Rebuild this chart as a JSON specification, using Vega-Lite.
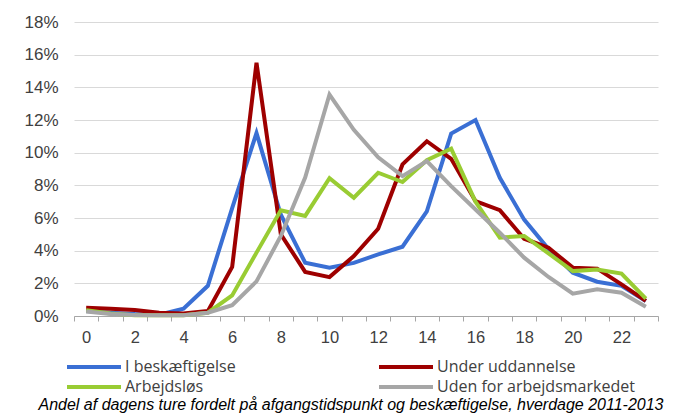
{
  "$schema": "https://vega.github.io/schema/vega-lite/v6.json",
  "autosize": {"type": "none"},
  "padding": {"left": 74, "top": 22, "right": 21, "bottom": 98},
  "width": 584,
  "height": 294,
  "background": "white",
  "title": {
    "text": "Andel af dagens ture fordelt på afgangstidspunkt og beskæftigelse, hverdage 2011-2013",
    "orient": "bottom",
    "anchor": "middle",
    "dx": -15,
    "offset": 2,
    "font": "Liberation Sans",
    "fontSize": 16,
    "fontStyle": "italic",
    "fontWeight": "normal",
    "color": "#000000"
  },
  "config": {
    "view": {"stroke": null},
    "axis": {"labelFont": "Liberation Sans", "labelColor": "#404040"},
    "legend": {"labelFont": "Open Sans"}
  },
  "data": {
    "values": [
      {"h": 0, "s": "I beskæftigelse", "v": 0.3},
      {"h": 1, "s": "I beskæftigelse", "v": 0.2},
      {"h": 2, "s": "I beskæftigelse", "v": 0.12},
      {"h": 3, "s": "I beskæftigelse", "v": 0.08},
      {"h": 4, "s": "I beskæftigelse", "v": 0.45},
      {"h": 5, "s": "I beskæftigelse", "v": 1.85},
      {"h": 6, "s": "I beskæftigelse", "v": 6.6},
      {"h": 7, "s": "I beskæftigelse", "v": 11.2},
      {"h": 8, "s": "I beskæftigelse", "v": 6.2},
      {"h": 9, "s": "I beskæftigelse", "v": 3.26},
      {"h": 10, "s": "I beskæftigelse", "v": 2.96},
      {"h": 11, "s": "I beskæftigelse", "v": 3.25},
      {"h": 12, "s": "I beskæftigelse", "v": 3.77},
      {"h": 13, "s": "I beskæftigelse", "v": 4.24},
      {"h": 14, "s": "I beskæftigelse", "v": 6.4},
      {"h": 15, "s": "I beskæftigelse", "v": 11.17},
      {"h": 16, "s": "I beskæftigelse", "v": 12.0},
      {"h": 17, "s": "I beskæftigelse", "v": 8.46},
      {"h": 18, "s": "I beskæftigelse", "v": 5.9},
      {"h": 19, "s": "I beskæftigelse", "v": 4.1},
      {"h": 20, "s": "I beskæftigelse", "v": 2.65},
      {"h": 21, "s": "I beskæftigelse", "v": 2.1},
      {"h": 22, "s": "I beskæftigelse", "v": 1.85},
      {"h": 23, "s": "I beskæftigelse", "v": 0.92},
      {"h": 0, "s": "Under uddannelse", "v": 0.5},
      {"h": 1, "s": "Under uddannelse", "v": 0.45},
      {"h": 2, "s": "Under uddannelse", "v": 0.37},
      {"h": 3, "s": "Under uddannelse", "v": 0.2},
      {"h": 4, "s": "Under uddannelse", "v": 0.15},
      {"h": 5, "s": "Under uddannelse", "v": 0.3},
      {"h": 6, "s": "Under uddannelse", "v": 3.0},
      {"h": 7, "s": "Under uddannelse", "v": 15.5},
      {"h": 8, "s": "Under uddannelse", "v": 5.0},
      {"h": 9, "s": "Under uddannelse", "v": 2.7},
      {"h": 10, "s": "Under uddannelse", "v": 2.38},
      {"h": 11, "s": "Under uddannelse", "v": 3.67},
      {"h": 12, "s": "Under uddannelse", "v": 5.34},
      {"h": 13, "s": "Under uddannelse", "v": 9.28},
      {"h": 14, "s": "Under uddannelse", "v": 10.7},
      {"h": 15, "s": "Under uddannelse", "v": 9.62},
      {"h": 16, "s": "Under uddannelse", "v": 7.03},
      {"h": 17, "s": "Under uddannelse", "v": 6.48},
      {"h": 18, "s": "Under uddannelse", "v": 4.73},
      {"h": 19, "s": "Under uddannelse", "v": 4.18},
      {"h": 20, "s": "Under uddannelse", "v": 2.96},
      {"h": 21, "s": "Under uddannelse", "v": 2.9},
      {"h": 22, "s": "Under uddannelse", "v": 1.94},
      {"h": 23, "s": "Under uddannelse", "v": 0.92},
      {"h": 0, "s": "Arbejdsløs", "v": 0.35},
      {"h": 1, "s": "Arbejdsløs", "v": 0.15},
      {"h": 2, "s": "Arbejdsløs", "v": 0.05},
      {"h": 3, "s": "Arbejdsløs", "v": 0.05},
      {"h": 4, "s": "Arbejdsløs", "v": 0.05},
      {"h": 5, "s": "Arbejdsløs", "v": 0.2},
      {"h": 6, "s": "Arbejdsløs", "v": 1.26},
      {"h": 7, "s": "Arbejdsløs", "v": 3.88},
      {"h": 8, "s": "Arbejdsløs", "v": 6.47},
      {"h": 9, "s": "Arbejdsløs", "v": 6.13},
      {"h": 10, "s": "Arbejdsløs", "v": 8.44},
      {"h": 11, "s": "Arbejdsløs", "v": 7.24},
      {"h": 12, "s": "Arbejdsløs", "v": 8.77},
      {"h": 13, "s": "Arbejdsløs", "v": 8.2},
      {"h": 14, "s": "Arbejdsløs", "v": 9.54},
      {"h": 15, "s": "Arbejdsløs", "v": 10.25},
      {"h": 16, "s": "Arbejdsløs", "v": 7.0},
      {"h": 17, "s": "Arbejdsløs", "v": 4.8},
      {"h": 18, "s": "Arbejdsløs", "v": 4.9},
      {"h": 19, "s": "Arbejdsløs", "v": 3.83},
      {"h": 20, "s": "Arbejdsløs", "v": 2.75},
      {"h": 21, "s": "Arbejdsløs", "v": 2.85},
      {"h": 22, "s": "Arbejdsløs", "v": 2.6},
      {"h": 23, "s": "Arbejdsløs", "v": 1.06},
      {"h": 0, "s": "Uden for arbejdsmarkedet", "v": 0.28},
      {"h": 1, "s": "Uden for arbejdsmarkedet", "v": 0.12},
      {"h": 2, "s": "Uden for arbejdsmarkedet", "v": 0.06},
      {"h": 3, "s": "Uden for arbejdsmarkedet", "v": 0.05},
      {"h": 4, "s": "Uden for arbejdsmarkedet", "v": 0.05},
      {"h": 5, "s": "Uden for arbejdsmarkedet", "v": 0.2},
      {"h": 6, "s": "Uden for arbejdsmarkedet", "v": 0.66},
      {"h": 7, "s": "Uden for arbejdsmarkedet", "v": 2.12},
      {"h": 8, "s": "Uden for arbejdsmarkedet", "v": 4.9},
      {"h": 9, "s": "Uden for arbejdsmarkedet", "v": 8.48},
      {"h": 10, "s": "Uden for arbejdsmarkedet", "v": 13.56},
      {"h": 11, "s": "Uden for arbejdsmarkedet", "v": 11.4},
      {"h": 12, "s": "Uden for arbejdsmarkedet", "v": 9.72},
      {"h": 13, "s": "Uden for arbejdsmarkedet", "v": 8.56},
      {"h": 14, "s": "Uden for arbejdsmarkedet", "v": 9.48},
      {"h": 15, "s": "Uden for arbejdsmarkedet", "v": 7.95},
      {"h": 16, "s": "Uden for arbejdsmarkedet", "v": 6.52},
      {"h": 17, "s": "Uden for arbejdsmarkedet", "v": 5.1},
      {"h": 18, "s": "Uden for arbejdsmarkedet", "v": 3.57},
      {"h": 19, "s": "Uden for arbejdsmarkedet", "v": 2.39},
      {"h": 20, "s": "Uden for arbejdsmarkedet", "v": 1.37},
      {"h": 21, "s": "Uden for arbejdsmarkedet", "v": 1.63},
      {"h": 22, "s": "Uden for arbejdsmarkedet", "v": 1.43},
      {"h": 23, "s": "Uden for arbejdsmarkedet", "v": 0.57}
    ]
  },
  "mark": {"type": "line", "strokeWidth": 4, "strokeJoin": "miter", "strokeCap": "butt"},
  "encoding": {
    "x": {
      "field": "h",
      "type": "quantitative",
      "scale": {"domain": [-0.5, 23.5], "nice": false, "zero": false},
      "axis": {
        "title": null,
        "grid": false,
        "values": [-0.5, 0.5, 1.5, 2.5, 3.5, 4.5, 5.5, 6.5, 7.5, 8.5, 9.5, 10.5, 11.5, 12.5, 13.5, 14.5, 15.5, 16.5, 17.5, 18.5, 19.5, 20.5, 21.5, 22.5, 23.5],
        "labelExpr": "((datum.value + 0.5) % 2 == 0 && datum.value < 23) ? format(datum.value + 0.5, 'd') : ''",
        "labelOffset": 12.17,
        "labelOverlap": false,
        "labelFlush": false,
        "labelFont": "Liberation Sans",
        "labelFontSize": 16.5,
        "labelPadding": 8,
        "tickSize": 5,
        "tickColor": "#a6a6a6",
        "domainColor": "#a6a6a6",
        "domainWidth": 1
      }
    },
    "y": {
      "field": "v",
      "type": "quantitative",
      "scale": {"domain": [0, 18], "nice": false},
      "axis": {
        "title": null,
        "values": [0, 2, 4, 6, 8, 10, 12, 14, 16, 18],
        "labelExpr": "datum.value + '%'",
        "labelFont": "Liberation Sans",
        "labelFontSize": 17,
        "labelPadding": 16,
        "ticks": false,
        "domain": false,
        "gridColor": "#d9d9d9",
        "gridWidth": 1
      }
    },
    "color": {
      "field": "s",
      "type": "nominal",
      "scale": {
        "domain": ["I beskæftigelse", "Under uddannelse", "Arbejdsløs", "Uden for arbejdsmarkedet"],
        "range": ["#3a6fd4", "#9e0000", "#99cc33", "#a6a6a6"]
      },
      "legend": {
        "title": null,
        "orient": "none",
        "legendX": 8,
        "legendY": 333,
        "direction": "horizontal",
        "columns": 2,
        "columnPadding": 135,
        "rowPadding": -2,
        "symbolType": "M-2.7,0H2.7",
        "symbolSize": 400,
        "symbolStrokeWidth": 4,
        "labelFont": "Open Sans",
        "labelFontSize": 16,
        "labelColor": "#404040",
        "labelOffset": 19,
        "labelLimit": 400
      }
    }
  }
}
